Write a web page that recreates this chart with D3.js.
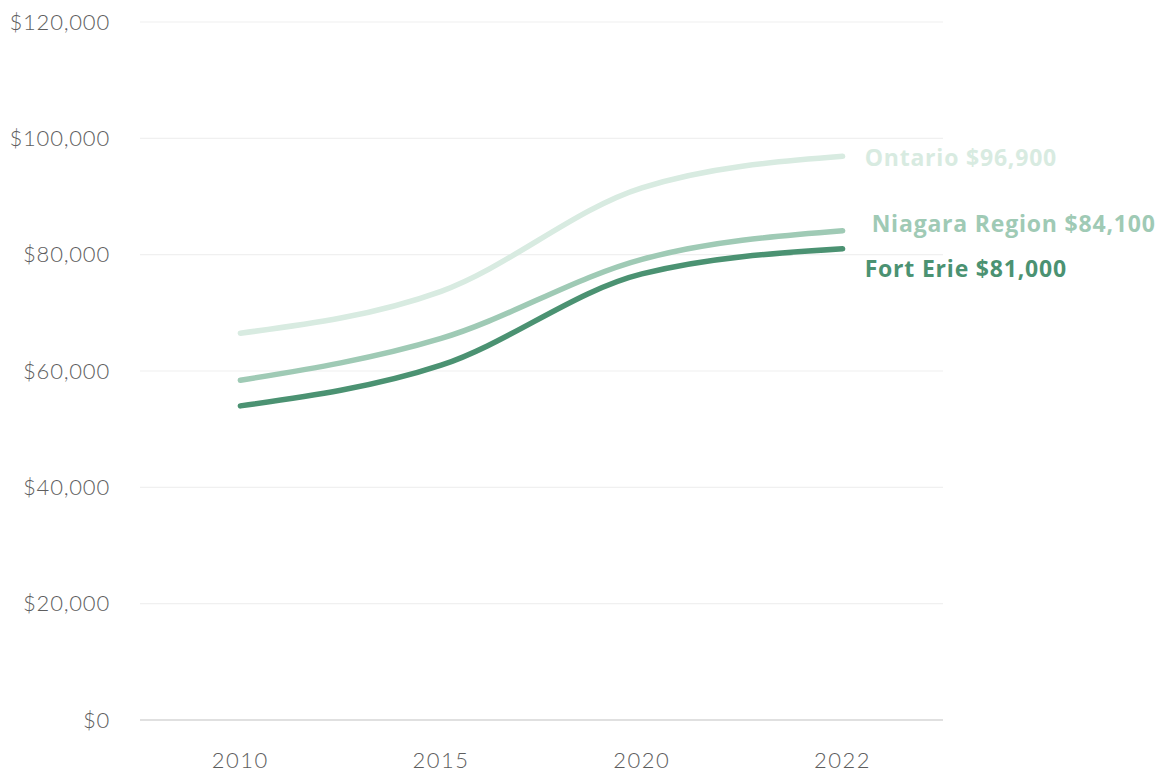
<!DOCTYPE html>
<html>
<head>
<meta charset="utf-8">
<script src="https://cdn.jsdelivr.net/npm/d3@7"></script>
<style>
    body { margin: 0; background: #fff; }
    text { font-family: Lato, "Open Sans", sans-serif; }
</style>
</head>
<body>
<div id="chart"></div>
<script>
const years = ["2010", "2015", "2020", "2022"];
const ontario = [66500, 73700, 91500, 96900];
const niagara = [58400, 65600, 79200, 84100];
const fortErie = [54000, 61000, 76700, 81000];
const yTicks = [0, 20000, 40000, 60000, 80000, 100000, 120000];

const seriesNames = ["Ontario", "Niagara Region", "Fort Erie"];
const seriesColors = ["#d8ebe1", "#9fcab5", "#4b9272"];
const labelOffsets = [{dx: 22, dy: 2}, {dx: 29, dy: -7}, {dx: 22, dy: 20}];

const width = 1164, height = 775;
const margin = {top: 22, right: 221, bottom: 55, left: 140};

const svg = d3.select("#chart").append("svg")
    .attr("width", width)
    .attr("height", height);

const x = d3.scaleBand()
    .domain(years)
    .range([margin.left, width - margin.right])
    .padding(0);

const y = d3.scaleLinear()
    .domain([0, 120000])
    .range([height - margin.bottom, margin.top]);

const fmt = d => "$" + d3.format(",")(d);

// gridlines
svg.append("g")
    .selectAll("line")
    .data(yTicks)
    .join("line")
    .attr("x1", margin.left)
    .attr("x2", width - margin.right)
    .attr("y1", d => y(d))
    .attr("y2", d => y(d))
    .attr("stroke", d => d === 0 ? "#d6d6d6" : "#f0f0f0")
    .attr("stroke-width", d => d === 0 ? 1.5 : 1.2);

// y labels
svg.append("g")
    .selectAll("text")
    .data(yTicks)
    .join("text")
    .attr("x", 110)
    .attr("y", d => y(d))
    .attr("dy", "0.35em")
    .attr("text-anchor", "end")
    .attr("fill", "#5e5e5e")
    .style("font-size", "22px")
    .style("font-weight", 300)
    .style("letter-spacing", "0.8px")
    .text(fmt);

// x labels
svg.append("g")
    .selectAll("text")
    .data(years)
    .join("text")
    .attr("x", d => x(d) + x.bandwidth() / 2)
    .attr("y", 760)
    .attr("dy", "0.35em")
    .attr("text-anchor", "middle")
    .attr("fill", "#5e5e5e")
    .style("font-size", "22px")
    .style("font-weight", 300)
    .style("letter-spacing", "1.5px")
    .text(d => d);

const line = d3.line()
    .x((d, i) => x(years[i]) + x.bandwidth() / 2)
    .y(d => y(d))
    .curve(d3.curveMonotoneX);

const allSeries = [ontario, niagara, fortErie];

svg.append("g")
    .selectAll("path")
    .data(allSeries)
    .join("path")
    .attr("d", line)
    .attr("fill", "none")
    .attr("stroke", (d, i) => seriesColors[i])
    .attr("stroke-width", 5.5)
    .attr("stroke-linecap", "round");

// end labels
svg.append("g")
    .selectAll("text")
    .data(allSeries)
    .join("text")
    .attr("x", (d, i) => x(years[3]) + x.bandwidth() / 2 + labelOffsets[i].dx)
    .attr("y", (d, i) => y(d[3]) + labelOffsets[i].dy)
    .attr("dy", "0.35em")
    .attr("fill", (d, i) => seriesColors[i])
    .style("font-family", "'Open Sans', Lato, sans-serif")
    .style("font-size", "23px")
    .style("font-weight", "bold")
    .style("letter-spacing", "0.8px")
    .text((d, i) => seriesNames[i] + " " + fmt(d[3]));
</script>
</body>
</html>
